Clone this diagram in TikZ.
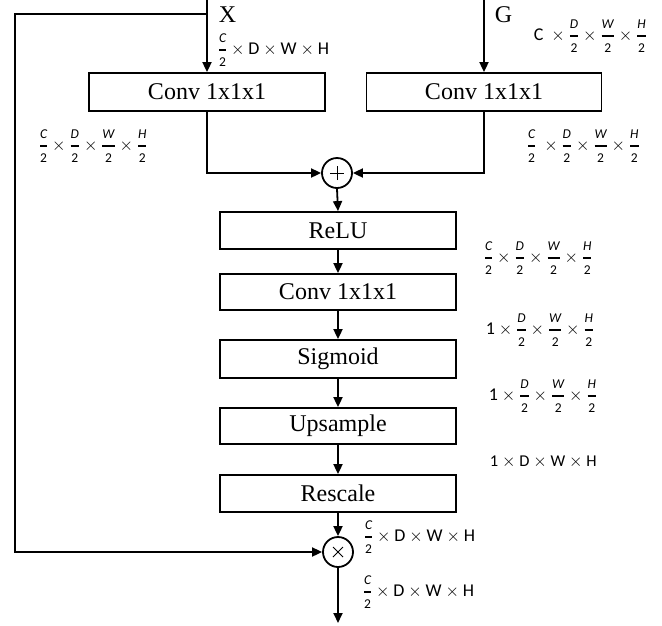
\documentclass[tikz,border=0pt]{standalone}
\usepackage{amsmath}
\usepackage{fontspec}
\setmainfont{Liberation Serif}
\newfontfamily\carlito{Carlito}
\usetikzlibrary{arrows.meta}
\newcommand\fr[2]{\genfrac{}{}{1.2pt}{0}{\hbox{\carlito\fontsize{13.5}{13.5}\selectfont\itshape #1}}{\hbox{\carlito\fontsize{13.5}{13.5}\selectfont #2}}}
\newcommand\tx[1]{\hbox{#1}}
\begin{document}
\begin{tikzpicture}[x=1pt,y=-1pt,
  line width=1.8pt,
  arr/.style={-{Triangle[length=10pt,width=9pt]}},
  blk/.style={draw,rectangle,minimum width=236pt,minimum height=37pt,inner sep=0pt,font=\fontsize{24}{26}\selectfont},
  opnode/.style={draw,circle,minimum size=30pt,inner sep=0pt},
  dim/.style={font=\carlito\fontsize{18}{20}\selectfont,inner sep=0pt,anchor=west},
  inlab/.style={font=\fontsize{24}{26}\selectfont,inner sep=0pt,anchor=west}]
\useasboundingbox (0,0) rectangle (662,625);
% boxes
\node[blk,minimum height=38pt] (c1) at (207,92) {Conv 1x1x1};
\node[blk,minimum height=38pt,minimum width=235pt] (c2) at (484,92) {Conv 1x1x1};
\node[opnode] (plus) at (337,173) {};
\node[blk] (relu) at (338,230.5) {ReLU};
\node[blk,minimum height=36pt] (conv) at (338,292) {Conv 1x1x1};
\node[blk,minimum height=38pt] (sig) at (338,359) {Sigmoid};
\node[blk,minimum height=36pt] (up) at (338,426) {Upsample};
\node[blk] (res) at (338,493.5) {Rescale};
\node[opnode] (times) at (338,552) {};
% op symbols
\draw[line width=0.8pt] ([xshift=-7pt]plus.center) -- ([xshift=7pt]plus.center)
  ([yshift=-7pt]plus.center) -- ([yshift=7pt]plus.center);
\draw[line width=0.8pt] ([shift={(-5pt,-5pt)}]times.center) -- ([shift={(5pt,5pt)}]times.center)
  ([shift={(-5pt,5pt)}]times.center) -- ([shift={(5pt,-5pt)}]times.center);
% inputs
\coordinate (xin) at (207,0);
\coordinate (xsplit) at (207,14);
\coordinate (gin) at (484,0);
\coordinate (out) at (338,623);
\node[inlab] (xl) at (218,15) {X};
\node[inlab] (gl) at (494,15) {G};
% connectors
\draw[arr] (xin) -- (c1.north);
\draw[arr] (xsplit) -- (15,14) -- (15,552) -- (times.west);
\draw[arr] (gin) -- (c2.north);
\draw[arr] (c1.south) |- (plus.west);
\draw[arr] (c2.south) |- (plus.east);
\draw[arr] (plus.south) -- (relu.north);
\draw[arr] (relu.south) -- (conv.north);
\draw[arr] (conv.south) -- (sig.north);
\draw[arr] (sig.south) -- (up.north);
\draw[arr] (up.south) -- (res.north);
\draw[arr] (res.south) -- (times.north);
\draw[arr] (times.south) -- (out);
% dimension labels
\node[dim] (d1) at (217,50) {$\fr{C}{2}\times\tx{D}\times\tx{W}\times\tx{H}$};
\node[dim] (d2) at (533,36) {$\tx{C}\ \times\fr{D}{2}\times\fr{W}{2}\times\fr{H}{2}$};
\node[dim] (d3) at (38,146) {$\fr{C}{2}\times\fr{D}{2}\times\fr{W}{2}\times\fr{H}{2}$};
\node[dim] (d4) at (526,146) {$\fr{C}{2}\ \times\fr{D}{2}\times\fr{W}{2}\times\fr{H}{2}$};
\node[dim] (d5) at (483,258) {$\fr{C}{2}\times\fr{D}{2}\times\fr{W}{2}\times\fr{H}{2}$};
\node[dim] (d6) at (485,330) {$\tx{1}\times\fr{D}{2}\times\fr{W}{2}\times\fr{H}{2}$};
\node[dim] (d7) at (488,396) {$\tx{1}\times\fr{D}{2}\times\fr{W}{2}\times\fr{H}{2}$};
\node[dim,font=\carlito\fontsize{16.5}{18}\selectfont] (d8) at (489,462) {$\tx{1}\times\tx{D}\times\tx{W}\times\tx{H}$};
\node[dim] (d9) at (363,537) {$\fr{C}{2}\times\tx{D}\times\tx{W}\times\tx{H}$};
\node[dim] (d10) at (362,592) {$\fr{C}{2}\times\tx{D}\times\tx{W}\times\tx{H}$};
\end{tikzpicture}
\end{document}
